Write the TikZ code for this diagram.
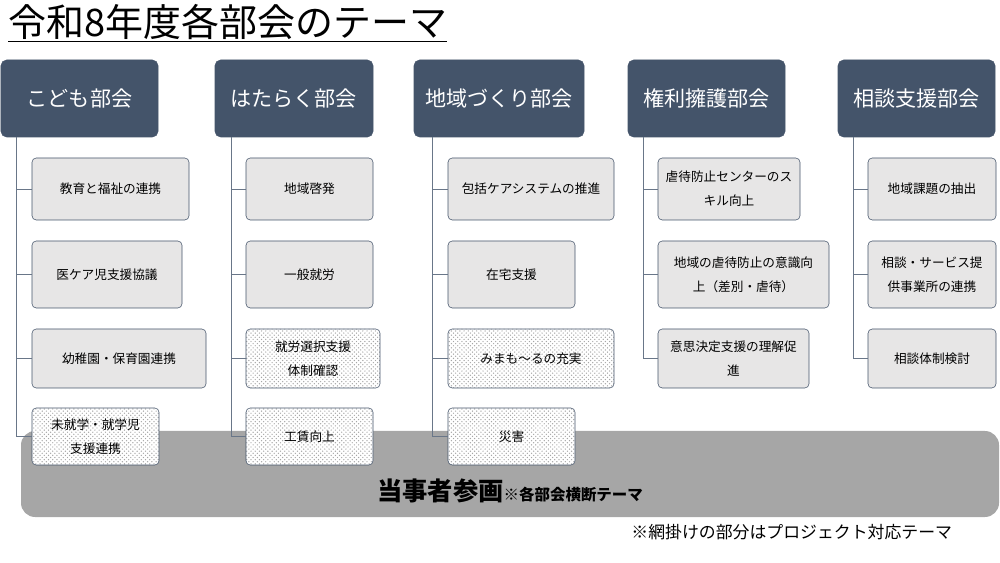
\documentclass[tikz,border=0pt]{standalone}
\usepackage{fontspec}
\setmainfont{Noto Sans CJK JP}
\usetikzlibrary{patterns}
\definecolor{slate}{HTML}{44546A}
\definecolor{boxgray}{HTML}{E7E6E6}
\tikzset{
  wh/.style 2 args={minimum width=#1*0.025cm,minimum height=#2*0.025cm},
  head/.style={draw=slate,fill=slate,text=white,rounded corners=4pt,font=\fontsize{15}{18}\selectfont},
  item/.style={draw=slate,fill=boxgray,rounded corners=3pt,align=center,font=\fontsize{9}{17}\selectfont,inner sep=1pt},
  proj/.style={item,preaction={fill=white},pattern=crosshatch dots,pattern color=gray!70},
  link/.style={draw=slate!80,line width=0.6pt}
}
\begin{document}
\begin{tikzpicture}[x=0.025cm,y=-0.025cm]
  \useasboundingbox (0,0) rectangle (1000,563);

  \node[anchor=north west,inner sep=0pt,font=\fontsize{27}{30}\selectfont] (title) at (8,4) {\underline{令和8年度各部会のテーマ}};

  % band behind the last row
  \node[fill=gray!70,rounded corners=10pt,wh={978}{86}] (band) at (510,474) {};
  \node[anchor=base,font=\bfseries] (bandtxt) at (510,500) {{\fontsize{18}{20}\selectfont 当事者参画}{\fontsize{11}{12}\selectfont ※各部会横断テーマ}};
  \node[anchor=east,font=\fontsize{12}{14}\selectfont] (note) at (957,532) {※網掛けの部分はプロジェクト対応テーマ};

  % headers
  \node[head,wh={157}{77}] (h1) at (79.5,98.5) {こども部会};
  \node[head,wh={158}{77}] (h2) at (294,98.5) {はたらく部会};
  \node[head,wh={170}{77}] (h3) at (499,98.5) {地域づくり部会};
  \node[head,wh={157}{77}] (h4) at (706.5,98.5) {権利擁護部会};
  \node[head,wh={157}{77}] (h5) at (916.5,98.5) {相談支援部会};

  \coordinate (t1) at (16,137);
  \coordinate (t2) at (231,137);
  \coordinate (t3) at (432,137);
  \coordinate (t4) at (643,137);
  \coordinate (t5) at (853,137);

  % こども部会
  \node[item,wh={157}{62}] (a1) at (110.5,189) {教育と福祉の連携};
  \node[item,wh={150}{67}] (a2) at (107,274.5) {医ケア児支援協議};
  \node[item,wh={174}{59}] (a3) at (119,358.5) {幼稚園・保育園連携};
  \node[proj,wh={127}{57}] (a4) at (95.5,436.5) {未就学・就学児\\支援連携};
  \foreach \to in {a1,a2,a3,a4}
    \draw[link] (t1) |- (\to.west);

  % はたらく部会
  \node[item,wh={127}{62}] (b1) at (309.5,189) {地域啓発};
  \node[item,wh={127}{67}] (b2) at (309.5,274.5) {一般就労};
  \node[proj,wh={134}{59}] (b3) at (313,358.5) {就労選択支援\\体制確認};
  \node[proj,wh={127}{57}] (b4) at (309.5,436.5) {工賃向上};
  \foreach \to in {b1,b2,b3,b4}
    \draw[link] (t2) |- (\to.west);

  % 地域づくり部会
  \node[item,wh={166}{62}] (c1) at (531,189) {包括ケアシステムの推進};
  \node[item,wh={127}{67}] (c2) at (511.5,274.5) {在宅支援};
  \node[proj,wh={166}{59}] (c3) at (531,358.5) {みまも〜るの充実};
  \node[proj,wh={127}{57}] (c4) at (511.5,436.5) {災害};
  \foreach \to in {c1,c2,c3,c4}
    \draw[link] (t3) |- (\to.west);

  % 権利擁護部会
  \node[item,wh={142}{62}] (d1) at (729,189) {虐待防止センターのス\\キル向上};
  \node[item,wh={171}{67}] (d2) at (743.5,274.5) {地域の虐待防止の意識向\\上（差別・虐待）};
  \node[item,wh={151}{59}] (d3) at (733.5,358.5) {意思決定支援の理解促\\進};
  \foreach \to in {d1,d2,d3}
    \draw[link] (t4) |- (\to.west);

  % 相談支援部会
  \node[item,wh={128}{62}] (e1) at (932,189) {地域課題の抽出};
  \node[item,wh={128}{67}] (e2) at (932,274.5) {相談・サービス提\\供事業所の連携};
  \node[item,wh={128}{59}] (e3) at (932,358.5) {相談体制検討};
  \foreach \to in {e1,e2,e3}
    \draw[link] (t5) |- (\to.west);
\end{tikzpicture}
\end{document}
